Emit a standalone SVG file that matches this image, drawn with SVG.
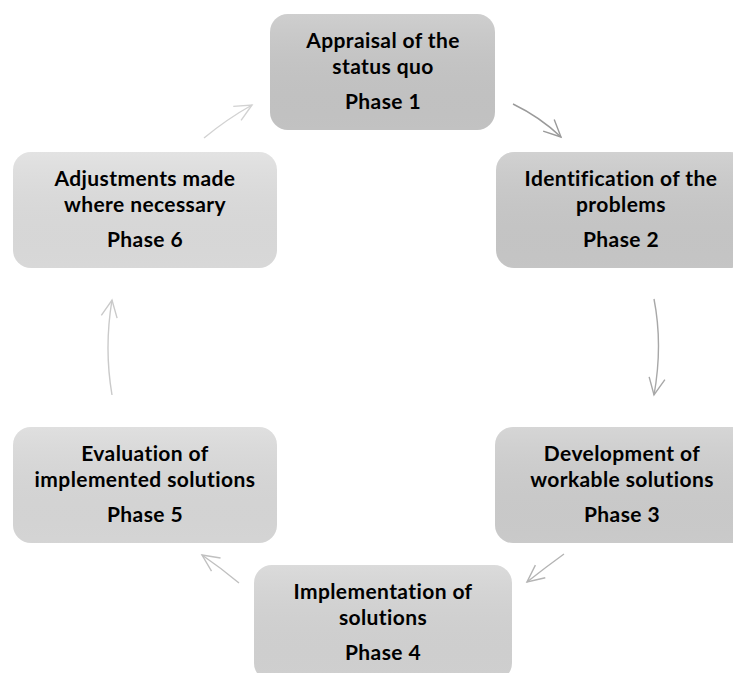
<svg xmlns="http://www.w3.org/2000/svg" width="733" height="673" viewBox="0 0 733 673">
<style>
.lbl{font-family:Lato,"Liberation Sans",Arial,sans-serif;font-weight:bold;font-size:21px;letter-spacing:0.4px;fill:#000;text-anchor:middle}
.ar{fill:none;stroke-width:1.4}
</style>
<defs>
<linearGradient id="sh" x1="0" y1="0" x2="0" y2="1">
<stop offset="0" stop-color="#fff" stop-opacity="0.12"/>
<stop offset="1" stop-color="#000" stop-opacity="0.03"/>
</linearGradient>
<marker id="m1" markerUnits="userSpaceOnUse" markerWidth="40" markerHeight="40" refX="20" refY="20" orient="auto" viewBox="0 0 40 40"><path d="M3,12 L20,20 L3,28" fill="none" stroke="#9a9a9a" stroke-width="1.4"/></marker>
<marker id="m2" markerUnits="userSpaceOnUse" markerWidth="40" markerHeight="40" refX="20" refY="20" orient="auto" viewBox="0 0 40 40"><path d="M3,12 L20,20 L3,28" fill="none" stroke="#a8a8a8" stroke-width="1.4"/></marker>
<marker id="m3" markerUnits="userSpaceOnUse" markerWidth="40" markerHeight="40" refX="20" refY="20" orient="auto" viewBox="0 0 40 40"><path d="M3,12 L20,20 L3,28" fill="none" stroke="#b4b4b4" stroke-width="1.4"/></marker>
<marker id="m4" markerUnits="userSpaceOnUse" markerWidth="40" markerHeight="40" refX="20" refY="20" orient="auto" viewBox="0 0 40 40"><path d="M3,12 L20,20 L3,28" fill="none" stroke="#c0c0c0" stroke-width="1.4"/></marker>
<marker id="m5" markerUnits="userSpaceOnUse" markerWidth="40" markerHeight="40" refX="20" refY="20" orient="auto" viewBox="0 0 40 40"><path d="M3,12 L20,20 L3,28" fill="none" stroke="#cacaca" stroke-width="1.4"/></marker>
<marker id="m6" markerUnits="userSpaceOnUse" markerWidth="40" markerHeight="40" refX="20" refY="20" orient="auto" viewBox="0 0 40 40"><path d="M3,12 L20,20 L3,28" fill="none" stroke="#d2d2d2" stroke-width="1.4"/></marker>
</defs>
<rect width="733" height="673" fill="#fff"/>
<g id="connectors">
<path class="ar" d="M513,104 Q540,117 561,137" stroke="#9a9a9a" marker-end="url(#m1)"/>
<path class="ar" d="M654,299 Q663,345 654,395" stroke="#a8a8a8" marker-end="url(#m2)"/>
<path class="ar" d="M564,554 Q546,567 527,582" stroke="#b4b4b4" marker-end="url(#m3)"/>
<path class="ar" d="M239,583 Q221,568 202,555" stroke="#c0c0c0" marker-end="url(#m4)"/>
<path class="ar" d="M112,395 Q104,348 112,300" stroke="#cacaca" marker-end="url(#m5)"/>
<path class="ar" d="M204,138 Q227,119 252,105" stroke="#d2d2d2" marker-end="url(#m6)"/>
</g>
<g id="node1">
<rect x="270" y="14" width="225" height="116" rx="18" fill="#c8c8c8"/>
<rect x="270" y="14" width="225" height="116" rx="18" fill="url(#sh)"/>
<text class="lbl" x="383" y="48">Appraisal of the</text>
<text class="lbl" x="383" y="74">status quo</text>
<text class="lbl" x="383" y="109">Phase 1</text>
</g>
<g id="node2">
<rect x="496" y="152" width="252" height="116" rx="18" fill="#cbcbcb"/>
<rect x="496" y="152" width="252" height="116" rx="18" fill="url(#sh)"/>
<text class="lbl" x="621" y="186">Identification of the</text>
<text class="lbl" x="621" y="212">problems</text>
<text class="lbl" x="621" y="247">Phase 2</text>
</g>
<g id="node3">
<rect x="495" y="427" width="254" height="116" rx="18" fill="#d0d0d0"/>
<rect x="495" y="427" width="254" height="116" rx="18" fill="url(#sh)"/>
<text class="lbl" x="622" y="461">Development of</text>
<text class="lbl" x="622" y="487">workable solutions</text>
<text class="lbl" x="622" y="522">Phase 3</text>
</g>
<g id="node4">
<rect x="254" y="565" width="258" height="116" rx="18" fill="#d6d6d6"/>
<rect x="254" y="565" width="258" height="116" rx="18" fill="url(#sh)"/>
<text class="lbl" x="383" y="599">Implementation of</text>
<text class="lbl" x="383" y="625">solutions</text>
<text class="lbl" x="383" y="660">Phase 4</text>
</g>
<g id="node5">
<rect x="13" y="427" width="264" height="116" rx="18" fill="#dbdbdb"/>
<rect x="13" y="427" width="264" height="116" rx="18" fill="url(#sh)"/>
<text class="lbl" x="145" y="461">Evaluation of</text>
<text class="lbl" x="145" y="487">implemented solutions</text>
<text class="lbl" x="145" y="522">Phase 5</text>
</g>
<g id="node6">
<rect x="13" y="152" width="264" height="116" rx="18" fill="#dfdfdf"/>
<rect x="13" y="152" width="264" height="116" rx="18" fill="url(#sh)"/>
<text class="lbl" x="145" y="186">Adjustments made</text>
<text class="lbl" x="145" y="212">where necessary</text>
<text class="lbl" x="145" y="247">Phase 6</text>
</g>
</svg>
